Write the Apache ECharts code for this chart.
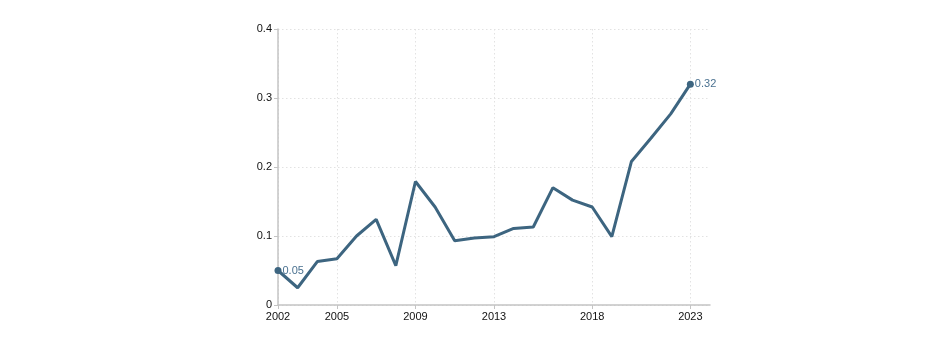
<!DOCTYPE html>
<html><head><meta charset="utf-8">
<script src="https://cdn.jsdelivr.net/npm/echarts@6/dist/echarts.min.js"></script>
<style>html,body{margin:0;padding:0;background:#fff}#c{width:940px;height:358px}</style>
</head><body><div id="c"></div>
<script>
const years = [2002,2003,2004,2005,2006,2007,2008,2009,2010,2011,2012,2013,2014,2015,2016,2017,2018,2019,2020,2021,2022,2023];
const values = [0.05,0.025,0.063,0.067,0.100,0.124,0.057,0.179,0.142,0.093,0.097,0.099,0.111,0.113,0.170,0.152,0.142,0.099,0.208,0.242,0.277,0.32];
const xTickYears = [2002,2005,2009,2013,2018,2023];
const yTicks = [0,0.1,0.2,0.3,0.4];

const last = values.length - 1;
const data = years.map((y, i) => {
  const end = (i === 0 || i === last);
  return {
    value: [y, values[i]],
    symbolSize: end ? 7 : 0,
    label: { show: end, formatter: String(values[i]) }
  };
});

const chart = echarts.init(document.getElementById('c'));
chart.setOption({
  animation: false,
  grid: { left: 278, right: 230, top: 29, bottom: 53, containLabel: false },
  xAxis: {
    type: 'value', min: 2002, max: 2024,
    axisLine: { show: true, lineStyle: { color: '#c4c4c4', width: 1.5 } },
    axisTick: { show: true, customValues: xTickYears, length: 4, lineStyle: { color: '#c4c4c4' } },
    axisLabel: { customValues: xTickYears, color: '#111', fontSize: 11, fontFamily: 'Liberation Sans', margin: 6,
      formatter: v => String(v) },
    splitLine: { show: true, lineStyle: { color: '#e2e2e2', type: [1.5, 2.5], width: 1 } }
  },
  yAxis: {
    type: 'value', min: 0, max: 0.4, interval: 0.1,
    axisLine: { show: true, lineStyle: { color: '#c4c4c4', width: 1.5 } },
    axisTick: { show: true, length: 4, lineStyle: { color: '#c4c4c4' } },
    axisLabel: { color: '#111', fontSize: 11, fontFamily: 'Liberation Sans', margin: 6,
      formatter: v => String(Math.round(v * 10) / 10) },
    splitLine: { show: true, lineStyle: { color: '#e2e2e2', type: [1.5, 2.5], width: 1 } }
  },
  series: [{
    type: 'line',
    data: data,
    symbol: 'circle',
    showSymbol: true,
    lineStyle: { color: '#3d6580', width: 3 },
    itemStyle: { color: '#3d6580' },
    label: { position: 'right', distance: 1, color: '#4a7190', fontSize: 11, fontFamily: 'Liberation Sans' }
  }]
});
</script>
</body></html>
